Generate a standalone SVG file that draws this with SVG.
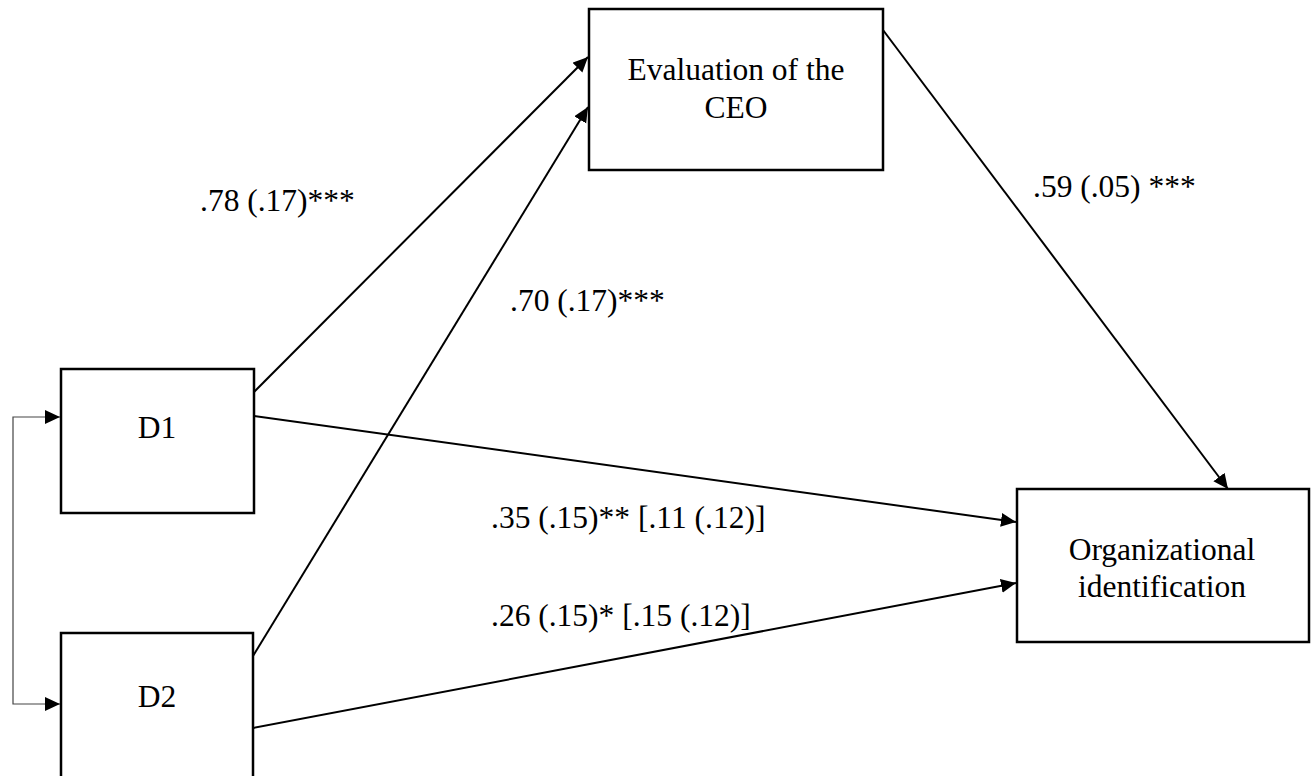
<svg xmlns="http://www.w3.org/2000/svg" width="1313" height="776" viewBox="0 0 1313 776">
<style>
.box{fill:#fff;stroke:#000;stroke-width:2.5}
.t{font-family:"Liberation Serif","Times New Roman",serif;font-size:31.5px;fill:#000}
.c{text-anchor:middle}
.ln{fill:none;stroke:#000;stroke-width:2}
.thin{fill:none;stroke:#444;stroke-width:1.2}
</style>
<defs>
<marker id="ah" markerUnits="userSpaceOnUse" markerWidth="16" markerHeight="15" refX="15" refY="7" orient="auto">
<path d="M0,0 L15,7 L0,14 z" fill="#000"/>
</marker>
</defs>
<rect width="1313" height="776" fill="#fff"/>
<g id="ceo">
<rect class="box" x="589" y="9" width="294" height="161"/>
<text class="t c" x="736" y="80">Evaluation of the</text>
<text class="t c" x="736" y="118">CEO</text>
</g>
<g id="d1">
<rect class="box" x="61" y="369" width="193" height="144"/>
<text class="t c" x="157" y="438">D1</text>
</g>
<g id="d2">
<rect class="box" x="61" y="633" width="192" height="150"/>
<text class="t c" x="157" y="707">D2</text>
</g>
<g id="org">
<rect class="box" x="1017" y="489" width="292" height="153"/>
<text class="t c" x="1162" y="560">Organizational</text>
<text class="t c" x="1162" y="597">identification</text>
</g>
<g id="connectors">
<line class="ln" x1="254" y1="392" x2="588" y2="57" marker-end="url(#ah)"/>
<line class="ln" x1="253" y1="656" x2="588" y2="107" marker-end="url(#ah)"/>
<line class="ln" x1="254" y1="416" x2="1016" y2="522" marker-end="url(#ah)"/>
<line class="ln" x1="253" y1="728" x2="1016" y2="583" marker-end="url(#ah)"/>
<line class="ln" x1="883" y1="30" x2="1228" y2="489" marker-end="url(#ah)"/>
<polyline class="thin" points="60,417 13,417 13,704 60,704"/>
<path d="M45,410 L60,417 L45,424 z" fill="#000"/>
<path d="M45,697 L60,704 L45,711 z" fill="#000"/>
</g>
<g id="labels">
<text class="t" x="200" y="211">.78 (.17)***</text>
<text class="t" x="510" y="311">.70 (.17)***</text>
<text class="t" x="1033" y="197">.59 (.05) ***</text>
<text class="t" x="491" y="528">.35 (.15)** [.11 (.12)]</text>
<text class="t" x="491" y="626">.26 (.15)* [.15 (.12)]</text>
</g>
</svg>
